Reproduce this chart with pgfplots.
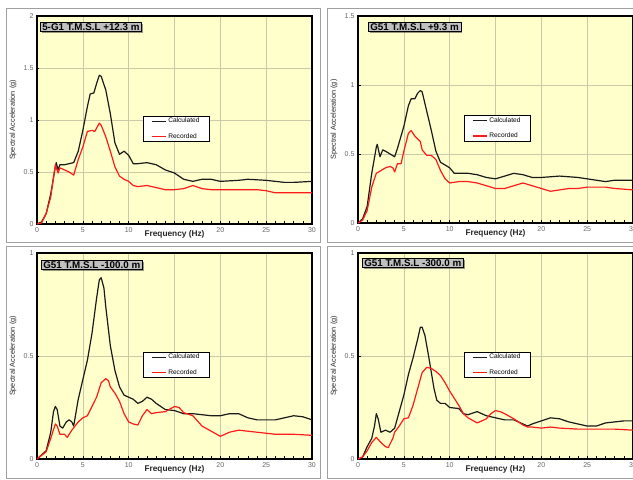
\documentclass[border=0pt]{standalone}
\usepackage{fontspec}
\setmainfont{Liberation Sans}
\usepackage{pgfplots}
\pgfplotsset{compat=1.18}
\usetikzlibrary{shadows}
\definecolor{plotbg}{HTML}{FFFFCC}
\definecolor{gridc}{HTML}{CACAA8}
\definecolor{tickc}{HTML}{666666}
\definecolor{calc}{HTML}{1A1A1A}
\definecolor{recc}{HTML}{FF1A1A}
\definecolor{titlebg}{HTML}{C0C0C0}
\definecolor{framec}{HTML}{A0A0A0}

\tikzset{
  ttl/.style={anchor=north west, fill=titlebg, draw=black, line width=0.6pt,
    font=\fontsize{9.8}{10}\selectfont\bfseries, inner xsep=2pt, inner ysep=1pt,
    drop shadow={shadow xshift=1.3pt, shadow yshift=-1.3pt, fill=black!80}},
  calcline/.style={calc, line width=1.2pt, line join=round},
  recline/.style={recc, line width=1.2pt, line join=round},
}
\pgfplotsset{
  panel/.style={
    scale only axis, width=275pt, anchor=south west,
    xmin=0, xmax=30, ymin=0, clip=false,
    axis background/.style={fill=plotbg},
    axis line style={line width=1.1pt, black},
    grid=major, major grid style={gridc, line width=0.5pt},
    xtick={0,5,...,30}, xticklabels={0,5,10,,20,25,30},
    minor x tick num=4,
    xtick pos=bottom, ytick pos=left,
    tick align=inside,
    tick style={black, line width=0.4pt},
    major tick length=2.5pt, minor tick length=2.5pt,
    ticklabel style={font=\fontsize{7}{8}\selectfont, text=tickc},
    /pgf/number format/assume math mode=true,
    yticklabel style={/pgf/number format/fixed},
    xlabel={Frequency (Hz)},
    xlabel style={at={(axis description cs:0.5,0)}, anchor=center, yshift=-10pt,
      font=\fontsize{8.3}{9}\selectfont\bfseries, text=black!85},
    ylabel={Spectral Acceleration (g)},
    ylabel style={at={(axis description cs:-0.087,0.5)}, anchor=center,
      font=\fontsize{7.3}{8}\selectfont, text=black!85},
    legend style={at={(rel axis cs:0.385,0.52)}, anchor=north west, draw=black,
      line width=0.4pt, fill=white, font=\fontsize{6.6}{7}\selectfont,
      inner xsep=8pt, inner ysep=0pt, row sep=5pt, cells={anchor=west}},
    legend image code/.code={\draw[##1] (0pt,0pt) -- (14pt,0pt);},
  },
}

\begin{document}
\begin{tikzpicture}[x=1pt,y=1pt]
\useasboundingbox (0,0) rectangle (633,480);
\fill[white] (0,0) rectangle (633,480);
\clip (0,0) rectangle (633,480);
\draw[framec, line width=0.9pt] (6,238) rectangle (320,472);
\draw[framec, line width=0.9pt] (327,238) rectangle (645,472);
\draw[framec, line width=0.9pt] (6,2) rectangle (320,234);
\draw[framec, line width=0.9pt] (327,2) rectangle (645,234);

% Panel 1
\begin{axis}[panel, at={(37pt,256pt)}, height=208pt, ymax=2, ytick={0,0.5,1,1.5,2}]
\addplot[calcline] coordinates {(0,0) (0.5,0.02) (1,0.10) (1.5,0.29) (2,0.55) (2.1,0.59) (2.3,0.52) (2.5,0.57) (3,0.57) (3.5,0.58) (4,0.59) (4.5,0.70) (5,0.90) (5.5,1.13) (5.8,1.25) (6.2,1.26) (6.5,1.35) (6.8,1.43) (7,1.42) (7.5,1.29) (8,1.06) (8.5,0.78) (9,0.67) (9.5,0.70) (10,0.66) (10.5,0.58) (11,0.58) (12,0.59) (13,0.57) (14,0.52) (15,0.49) (16,0.43) (17,0.41) (18,0.43) (19,0.43) (20,0.41) (22,0.42) (23,0.43) (25,0.42) (27,0.40) (28,0.40) (30,0.41)};
\addlegendentry{Calculated}
\addplot[recline] coordinates {(0,0) (0.5,0.01) (1,0.10) (1.5,0.26) (2,0.57) (2.3,0.49) (2.5,0.54) (3,0.52) (3.5,0.50) (4,0.47) (4.5,0.62) (5,0.74) (5.5,0.89) (6,0.90) (6.3,0.89) (6.8,0.97) (7,0.95) (7.5,0.84) (8,0.70) (8.5,0.55) (9,0.46) (9.5,0.43) (10,0.41) (10.5,0.37) (11,0.36) (12,0.37) (13,0.35) (14,0.33) (15,0.33) (16,0.34) (17,0.37) (18,0.34) (19,0.33) (20,0.33) (22,0.33) (24,0.33) (25,0.32) (26,0.30) (27,0.30) (30,0.30)};
\addlegendentry{Recorded}
\node[ttl, xshift=3pt, yshift=-6pt] at (rel axis cs:0,1) {5-G1 T.M.S.L +12.3 m};
\end{axis}

% Panel 2
\begin{axis}[panel, at={(358pt,257pt)}, height=207pt, ymax=1.5, ytick={0,0.5,1,1.5}]
\addplot[calcline] coordinates {(0,0) (0.5,0.03) (1,0.12) (1.5,0.36) (2,0.55) (2.1,0.57) (2.4,0.48) (2.7,0.53) (3,0.52) (3.5,0.50) (4,0.48) (4.3,0.54) (5,0.70) (5.5,0.85) (5.8,0.90) (6.2,0.90) (6.5,0.94) (6.8,0.96) (7,0.95) (7.5,0.81) (8,0.67) (8.5,0.52) (9,0.44) (9.5,0.42) (10,0.40) (10.5,0.36) (11,0.36) (12,0.36) (13,0.35) (14,0.33) (15,0.32) (16,0.34) (17,0.36) (18,0.35) (19,0.33) (20,0.33) (22,0.34) (24,0.33) (25,0.32) (26,0.31) (27,0.30) (28,0.31) (30,0.31)};
\addlegendentry{Calculated}
\addplot[recline] coordinates {(0,0) (0.5,0.02) (1,0.09) (1.5,0.26) (2,0.36) (2.5,0.38) (3,0.40) (3.5,0.41) (3.8,0.40) (4,0.37) (4.3,0.43) (4.7,0.43) (5,0.52) (5.5,0.65) (5.8,0.67) (6.2,0.63) (6.8,0.59) (7,0.53) (7.5,0.49) (8,0.49) (8.5,0.46) (9,0.38) (9.5,0.32) (10,0.29) (11,0.30) (12,0.30) (13,0.29) (14,0.27) (15,0.25) (16,0.25) (17,0.27) (18,0.29) (19,0.27) (20,0.25) (21,0.23) (22,0.24) (23,0.25) (24,0.25) (25,0.26) (27,0.26) (28,0.25) (30,0.24)};
\addlegendentry{Recorded}
\node[ttl, xshift=10pt, yshift=-6pt] at (rel axis cs:0,1) {G51 T.M.S.L +9.3 m};
\end{axis}

% Panel 3
\begin{axis}[panel, at={(37pt,21pt)}, height=206pt, ymax=1, ytick={0,0.5,1}]
\addplot[calcline] coordinates {(0,0) (0.5,0.02) (1,0.04) (1.5,0.13) (1.8,0.23) (2,0.255) (2.2,0.24) (2.5,0.16) (2.8,0.15) (3.2,0.18) (3.5,0.19) (3.8,0.18) (4,0.16) (4.5,0.29) (5,0.385) (5.5,0.48) (6,0.61) (6.5,0.78) (6.8,0.87) (7,0.88) (7.3,0.83) (7.5,0.74) (8,0.55) (8.5,0.43) (9,0.35) (9.5,0.31) (10,0.30) (10.5,0.29) (11,0.27) (11.5,0.28) (12,0.30) (12.5,0.29) (13,0.27) (14,0.24) (15,0.235) (16,0.22) (17,0.22) (18,0.215) (19,0.21) (20,0.21) (21,0.22) (22,0.22) (23,0.20) (24,0.19) (25,0.19) (26,0.19) (27,0.20) (28,0.21) (29,0.205) (30,0.19)};
\addlegendentry{Calculated}
\addplot[recline] coordinates {(0,0) (1,0.035) (1.5,0.10) (2,0.17) (2.2,0.16) (2.5,0.12) (3,0.12) (3.3,0.105) (3.8,0.14) (4.5,0.18) (5,0.20) (5.5,0.21) (6,0.255) (6.5,0.30) (7,0.37) (7.5,0.39) (7.8,0.38) (8,0.35) (8.5,0.32) (9,0.28) (9.5,0.22) (10,0.18) (10.5,0.17) (11,0.165) (11.5,0.21) (12,0.24) (12.5,0.22) (13,0.225) (14,0.23) (15,0.255) (15.5,0.25) (16,0.225) (17,0.21) (18,0.16) (19,0.135) (20,0.11) (21,0.13) (22,0.14) (24,0.13) (26,0.12) (28,0.12) (30,0.115)};
\addlegendentry{Recorded}
\node[ttl, xshift=4pt, yshift=-7pt] at (rel axis cs:0,1) {G51 T.M.S.L -100.0 m};
\end{axis}

% Panel 4
\begin{axis}[panel, at={(358pt,21pt)}, height=206pt, ymax=1, ytick={0,0.5,1}]
\addplot[calcline] coordinates {(0,0) (0.5,0.01) (1,0.06) (1.5,0.10) (1.8,0.16) (2,0.22) (2.2,0.195) (2.5,0.13) (3,0.14) (3.5,0.13) (4,0.15) (4.5,0.23) (5,0.31) (5.5,0.41) (6,0.49) (6.5,0.58) (6.8,0.64) (7,0.64) (7.3,0.60) (7.7,0.50) (8,0.42) (8.3,0.34) (8.6,0.285) (9,0.27) (9.5,0.27) (10,0.25) (11,0.245) (11.5,0.22) (12,0.215) (13,0.23) (14,0.21) (15,0.20) (16,0.19) (17,0.19) (18,0.17) (18.5,0.16) (19,0.17) (20,0.185) (21,0.20) (22,0.195) (23,0.18) (24,0.17) (25,0.16) (26,0.16) (27,0.175) (28,0.18) (29,0.185) (30,0.185)};
\addlegendentry{Calculated}
\addplot[recline] coordinates {(0,0) (0.5,0.01) (1,0.04) (1.5,0.08) (2,0.105) (2.5,0.08) (3,0.06) (3.3,0.055) (3.8,0.10) (4,0.13) (4.5,0.16) (5,0.195) (5.5,0.20) (6,0.26) (6.5,0.34) (7,0.42) (7.5,0.445) (8,0.44) (8.5,0.425) (9,0.405) (9.5,0.37) (10,0.33) (10.5,0.295) (11,0.26) (11.5,0.22) (12,0.20) (13,0.175) (14,0.195) (14.5,0.22) (15,0.235) (15.5,0.23) (16,0.22) (17,0.195) (18,0.165) (18.5,0.155) (19,0.155) (20,0.15) (21,0.155) (22,0.15) (24,0.145) (26,0.145) (28,0.145) (30,0.14)};
\addlegendentry{Recorded}
\node[ttl, xshift=4pt, yshift=-5pt] at (rel axis cs:0,1) {G51 T.M.S.L -300.0 m};
\end{axis}
\end{tikzpicture}
\end{document}
